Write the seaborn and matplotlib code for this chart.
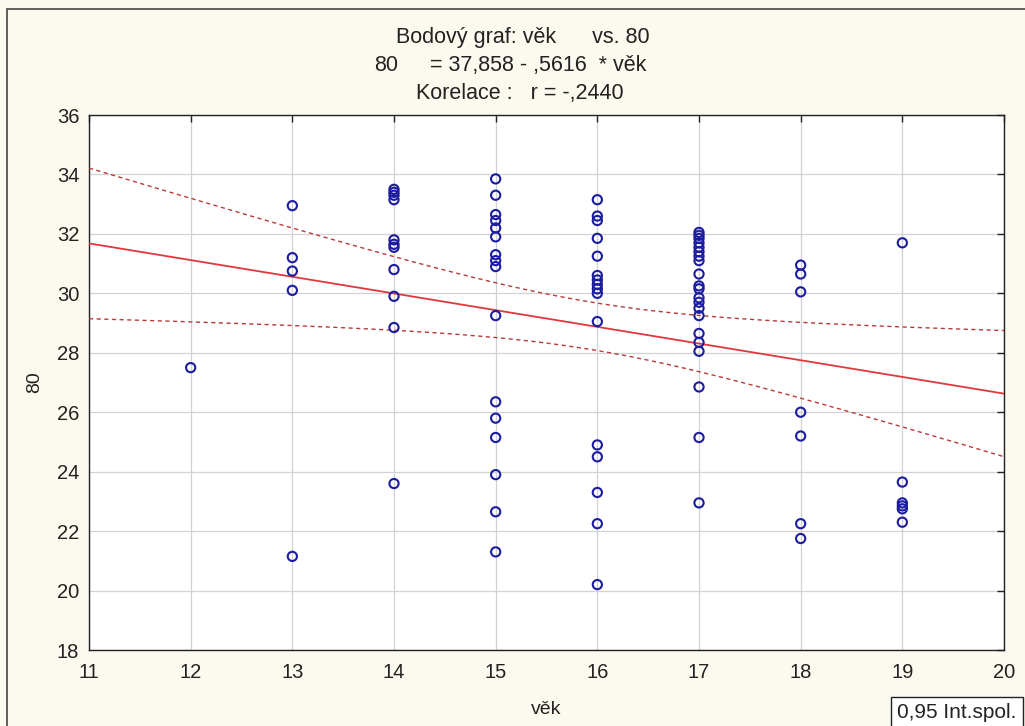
import numpy as np
import pandas as pd
import matplotlib
matplotlib.use("Agg")
import matplotlib.pyplot as plt
import seaborn as sns
from matplotlib.patches import Rectangle

# Measured values of "80" grouped by age (věk)
vek_12 = [27.5]
vek_13 = [32.95, 31.2, 30.75, 30.1, 21.15]
vek_14 = [33.5, 33.4, 33.3, 33.15, 31.8, 31.65, 31.55, 30.8, 29.9, 28.85, 23.6]
vek_15 = [33.85, 33.3, 32.65, 32.45, 32.2, 31.9, 31.3, 31.1, 30.9, 29.25,
          26.35, 25.8, 25.15, 23.9, 22.65, 21.3]
vek_16 = [33.15, 32.6, 32.45, 31.85, 31.25, 30.6, 30.45, 30.3, 30.15, 30.0,
          29.05, 24.9, 24.5, 23.3, 22.25, 20.2]
vek_17 = [32.05, 31.95, 31.85, 31.7, 31.55, 31.4, 31.25, 31.1, 30.65, 30.25,
          30.15, 29.85, 29.7, 29.5, 29.25, 28.65, 28.35, 28.05, 26.85, 25.15, 22.95]
vek_18 = [30.95, 30.65, 30.05, 26.0, 25.2, 22.25, 21.75]
vek_19 = [31.7, 23.65, 22.95, 22.85, 22.75, 22.3]

groups = {12: vek_12, 13: vek_13, 14: vek_14, 15: vek_15,
          16: vek_16, 17: vek_17, 18: vek_18, 19: vek_19}

# Fitted model as reported: 80 = 37,858 - ,5616 * věk
intercept = 37.858
slope = -0.5616

x_ticks = [11, 12, 13, 14, 15, 16, 17, 18, 19, 20]
y_ticks = [18, 20, 22, 24, 26, 28, 30, 32, 34, 36]

df = pd.DataFrame(
    [(age, v) for age, vals in groups.items() for v in vals],
    columns=["věk", "80"],
)

sns.set_theme(style="white")
plt.rcParams["font.family"] = ["Liberation Sans", "DejaVu Sans"]

W, H = 1025, 726
bg = "#fcf9ef"
ink = "#222222"
fig = plt.figure(figsize=(W / 100, H / 100), dpi=100, facecolor=bg)
ax = fig.add_axes([89 / W, 1 - 650 / H, (1004 - 89) / W, (650 - 115) / H])
ax.set_facecolor("white")

# 95 % confidence band for the mean response
x = df["věk"].to_numpy(float)
y = df["80"].to_numpy(float)
n = len(x)
resid = y - (intercept + slope * x)
s = np.sqrt(np.sum(resid ** 2) / (n - 2))
sxx = np.sum((x - x.mean()) ** 2)
t_crit = 1.99
xs = np.linspace(11, 20, 200)
yhat = intercept + slope * xs
half = t_crit * s * np.sqrt(1 / n + (xs - x.mean()) ** 2 / sxx)

ax.plot(xs, yhat, color="#e0383c", lw=1.3, zorder=3)
ax.plot(xs, yhat + half, color="#b83a3a", lw=1.0, ls=(0, (3, 2.5)), zorder=3)
ax.plot(xs, yhat - half, color="#b83a3a", lw=1.0, ls=(0, (3, 2.5)), zorder=3)

sns.scatterplot(data=df, x="věk", y="80", ax=ax, s=44, marker="o",
                facecolors="none", edgecolor="#1c1ca0", linewidth=1.5, zorder=4)

ax.set_xlim(11, 20)
ax.set_ylim(18, 36)
ax.set_xticks(x_ticks)
ax.set_yticks(y_ticks)
ax.grid(True, color="#d2d2d6", lw=0.9)
ax.set_axisbelow(True)
for sp in ax.spines.values():
    sp.set_color(ink)
    sp.set_linewidth(1.0)
ax.tick_params(axis="both", direction="in", length=5, width=1, colors=ink,
               labelsize=14.5, top=True, right=True, labeltop=False, labelright=False)
ax.tick_params(axis="x", pad=9)
ax.tick_params(axis="y", pad=7)
ax.set_xlabel("věk", fontsize=14, color=ink, labelpad=14)
ax.set_ylabel("80", fontsize=14, color=ink, labelpad=10)


def fig_text(px, py, txt, ha="center"):
    fig.text(px / W, 1 - py / H, txt, ha=ha, va="baseline", fontsize=15.5, color=ink)


# Title block (baselines)
fig_text(523, 43, "Bodový graf: věk      vs. 80")
fig_text(374, 71, "80", ha="left")
fig_text(538, 71, "= 37,858 - ,5616  * věk")
fig_text(520, 99, "Korelace :   r = -,2440")

# Outer frame of the graph window
fig.patches.append(Rectangle((7 / W, -0.1), 1.2, 1 - 9 / H + 0.1, transform=fig.transFigure,
                             fill=False, edgecolor="#444444", lw=1.2))

# Legend box
fig.text(897 / W, 1 - 713 / H, "0,95 Int.spol.", ha="left", va="center",
         fontsize=15, color=ink,
         bbox=dict(boxstyle="square,pad=0.3", facecolor="white", edgecolor=ink, lw=1))

fig.savefig("out.png", dpi=100, facecolor=bg)
